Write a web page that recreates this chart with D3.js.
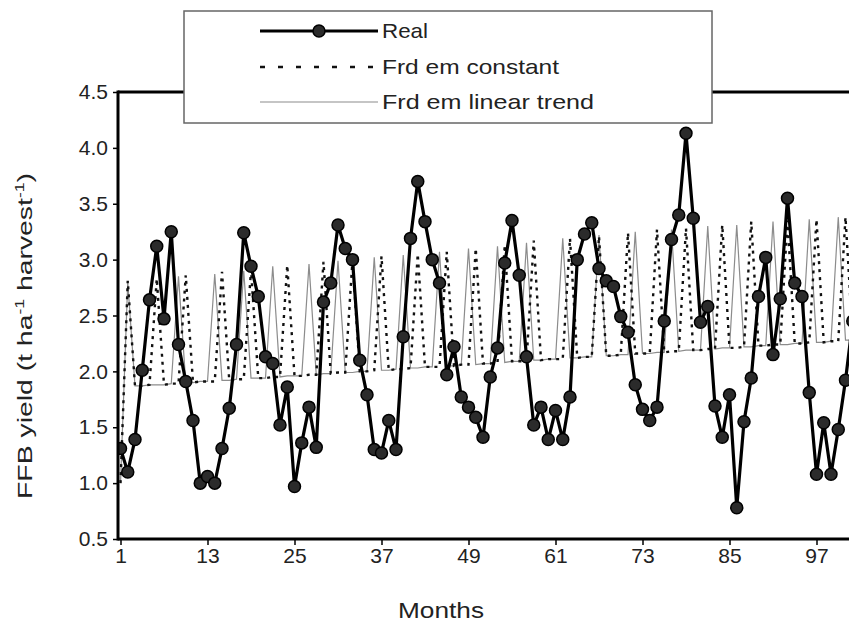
<!DOCTYPE html>
<html>
<head>
<meta charset="utf-8">
<script src="https://cdn.jsdelivr.net/npm/d3@7/dist/d3.min.js"></script>
<style>
  html, body { margin: 0; padding: 0; background: #fff; }
  svg { display: block; font-family: "Liberation Sans", Arial, sans-serif; }
</style>
</head>
<body>
<svg id="chart" width="849" height="627"></svg>
<script>
// ---------------- DATA ----------------
const months = d3.range(1, 103); // months 1..102
const real = [1.31,1.10,1.39,2.01,2.64,3.12,2.47,3.25,2.24,1.91,1.56,1.00,
  1.06,1.00,1.31,1.67,2.24,3.24,2.94,2.67,2.13,2.07,1.52,1.86,
  0.97,1.36,1.68,1.32,2.62,2.79,3.31,3.10,3.00,2.10,1.79,1.30,
  1.27,1.56,1.30,2.31,3.19,3.70,3.34,3.00,2.79,1.97,2.22,1.77,
  1.68,1.59,1.41,1.95,2.21,2.97,3.35,2.86,2.13,1.52,1.68,1.39,
  1.65,1.39,1.77,3.00,3.23,3.33,2.92,2.81,2.76,2.49,2.35,1.88,
  1.66,1.56,1.68,2.45,3.18,3.40,4.13,3.37,2.44,2.58,1.69,1.41,
  1.79,0.78,1.55,1.94,2.67,3.02,2.15,2.65,3.55,2.79,2.67,1.81,
  1.08,1.54,1.08,1.48,1.92,2.45];
const frdConstant = [1.00,2.81,1.87,1.87,1.88,2.83,1.88,1.89,1.89,2.86,1.90,1.91,
  1.91,1.91,2.89,1.92,1.93,1.93,2.91,1.94,1.94,1.95,1.95,2.95,
  1.96,1.96,1.97,1.97,2.98,1.98,1.99,1.99,3.00,2.00,2.00,2.01,
  3.03,2.01,2.02,2.02,2.03,3.05,2.04,2.04,2.04,3.07,2.05,2.06,
  2.06,3.10,2.07,2.07,2.08,3.13,2.09,2.09,2.09,3.17,2.10,2.11,
  2.11,2.11,3.19,2.12,2.13,2.13,3.21,2.14,2.14,2.15,3.24,2.16,
  2.16,2.16,3.27,2.17,2.18,2.18,3.28,2.19,2.19,2.20,2.20,3.31,
  2.21,2.21,2.22,3.34,2.23,2.23,2.24,2.24,3.35,2.25,2.25,2.26,
  3.36,2.26,2.27,2.27,3.38,2.28];
const frdLinear = [1.00,2.80,1.87,1.87,1.88,1.88,1.88,1.89,2.85,1.90,1.90,1.91,
  1.91,2.87,1.92,1.92,1.93,2.90,1.94,1.94,1.94,2.94,1.95,1.96,
  1.96,1.96,2.96,1.97,1.98,1.98,2.99,1.99,1.99,2.00,2.00,3.02,
  2.01,2.01,2.02,3.04,2.03,2.03,2.04,2.04,3.07,2.05,2.05,2.06,
  3.10,2.06,2.07,2.07,3.12,2.08,2.09,2.09,3.15,2.10,2.10,2.11,
  2.11,3.19,2.12,2.12,2.13,2.13,3.22,2.14,2.14,2.15,2.15,3.25,
  2.16,2.16,2.17,2.17,3.27,2.18,2.19,2.19,2.19,3.30,2.20,2.21,
  2.21,3.31,2.22,2.22,2.23,2.23,3.34,2.24,2.24,2.25,2.25,3.36,
  2.26,2.26,2.27,3.38,2.28,2.28];
const xTicks = [1,13,25,37,49,61,73,85,97];
const yTicks = [0.5,1.0,1.5,2.0,2.5,3.0,3.5,4.0,4.5];
const seriesNames = ["Real","Frd em constant","Frd em linear trend"];

// ---------------- LAYOUT ----------------
const svg = d3.select("#chart");
const pLeft = 118, pTop = 92, pBottom = 539, pRight = 900;
const x = d3.scaleLinear().domain([1, 97]).range([120.5, 816.5]);
const y = d3.scaleLinear().domain([0.5, 4.5]).range([pBottom, pTop]);
const txt = "#222";

svg.append("rect").attr("width", 849).attr("height", 627).attr("fill", "#fff");

svg.append("defs").append("clipPath").attr("id", "plotclip")
  .append("rect").attr("x", pLeft).attr("y", 0).attr("width", pRight - pLeft).attr("height", pBottom + 2);

const plot = svg.append("g").attr("clip-path", "url(#plotclip)");

const line = d3.line().x((d, i) => x(months[i])).y(d => y(d));

plot.append("path").datum(frdLinear)
  .attr("d", line).attr("fill", "none")
  .attr("stroke", "#8c8c8c").attr("stroke-width", 1.2);

plot.append("path").datum(frdConstant)
  .attr("d", line).attr("fill", "none")
  .attr("stroke", "#111").attr("stroke-width", 2.4)
  .attr("stroke-dasharray", "3,5");

plot.append("path").datum(real)
  .attr("d", line).attr("fill", "none")
  .attr("stroke", "#000").attr("stroke-width", 3.2);

plot.selectAll("circle.real").data(real).enter().append("circle")
  .attr("class", "real")
  .attr("cx", (d, i) => x(months[i])).attr("cy", d => y(d))
  .attr("r", 6).attr("fill", "#2b2b2b").attr("stroke", "#000").attr("stroke-width", 1.5);

// frame
svg.append("line").attr("x1", pLeft).attr("x2", pRight).attr("y1", pTop).attr("y2", pTop)
  .attr("stroke", "#000").attr("stroke-width", 3);
svg.append("line").attr("x1", pLeft).attr("x2", pLeft).attr("y1", pTop - 1.5).attr("y2", pBottom + 1.5)
  .attr("stroke", "#000").attr("stroke-width", 3);
svg.append("line").attr("x1", pLeft).attr("x2", pRight).attr("y1", pBottom).attr("y2", pBottom)
  .attr("stroke", "#000").attr("stroke-width", 3);

// axes
const yAxis = svg.append("g").attr("transform", `translate(${pLeft},0)`)
  .call(d3.axisLeft(y).tickValues(yTicks).tickSize(5).tickPadding(5).tickFormat(d3.format(".1f")));
const xAxis = svg.append("g").attr("transform", `translate(0,${pBottom})`)
  .call(d3.axisBottom(x).tickValues(xTicks).tickSize(6).tickPadding(3).tickFormat(d3.format("d")));
[yAxis, xAxis].forEach(g => {
  g.select(".domain").remove();
  g.selectAll(".tick line").attr("stroke", "#000").attr("stroke-width", 1.5);
  g.selectAll(".tick text").attr("fill", txt).style("font-size", "21px")
    .style("font-family", "'Liberation Sans', Arial, sans-serif");
});

// axis titles
svg.append("text").attr("x", 441).attr("y", 618).attr("text-anchor", "middle")
  .attr("fill", txt).style("font-size", "22px")
  .attr("textLength", 86).attr("lengthAdjust", "spacingAndGlyphs").text("Months");

const yl = svg.append("text").attr("transform", "translate(32,336) rotate(-90)")
  .attr("text-anchor", "middle").attr("fill", txt).style("font-size", "21px")
  .attr("textLength", 326).attr("lengthAdjust", "spacingAndGlyphs");
yl.append("tspan").text("FFB yield (t ha");
yl.append("tspan").attr("dy", -8).style("font-size", "13px").text("-1");
yl.append("tspan").attr("dy", 8).text(" harvest");
yl.append("tspan").attr("dy", -8).style("font-size", "13px").text("-1");
yl.append("tspan").attr("dy", 8).text(")");

// legend
const lg = svg.append("g");
lg.append("rect").attr("x", 184).attr("y", 11).attr("width", 528).attr("height", 112)
  .attr("fill", "#fff").attr("stroke", "#666").attr("stroke-width", 1.5);
const rowsY = [31, 67, 102];
const textLens = [46, 177, 212];
const lx1 = 260, lx2 = 378;
lg.append("line").attr("x1", lx1).attr("x2", lx2).attr("y1", rowsY[0]).attr("y2", rowsY[0])
  .attr("stroke", "#000").attr("stroke-width", 3.2);
lg.append("circle").attr("cx", (lx1 + lx2) / 2).attr("cy", rowsY[0]).attr("r", 6)
  .attr("fill", "#2b2b2b").attr("stroke", "#000").attr("stroke-width", 1.5);
lg.append("line").attr("x1", lx1).attr("x2", lx2).attr("y1", rowsY[1]).attr("y2", rowsY[1])
  .attr("stroke", "#111").attr("stroke-width", 2.6).attr("stroke-dasharray", "5,13");
lg.append("line").attr("x1", lx1).attr("x2", lx2).attr("y1", rowsY[2]).attr("y2", rowsY[2])
  .attr("stroke", "#8c8c8c").attr("stroke-width", 1.2);
seriesNames.forEach((n, i) => {
  lg.append("text").attr("x", 382).attr("y", rowsY[i]).attr("dy", "0.35em")
    .attr("fill", txt).style("font-size", "21px")
    .attr("textLength", textLens[i]).attr("lengthAdjust", "spacingAndGlyphs").text(n);
});
</script>
</body>
</html>
